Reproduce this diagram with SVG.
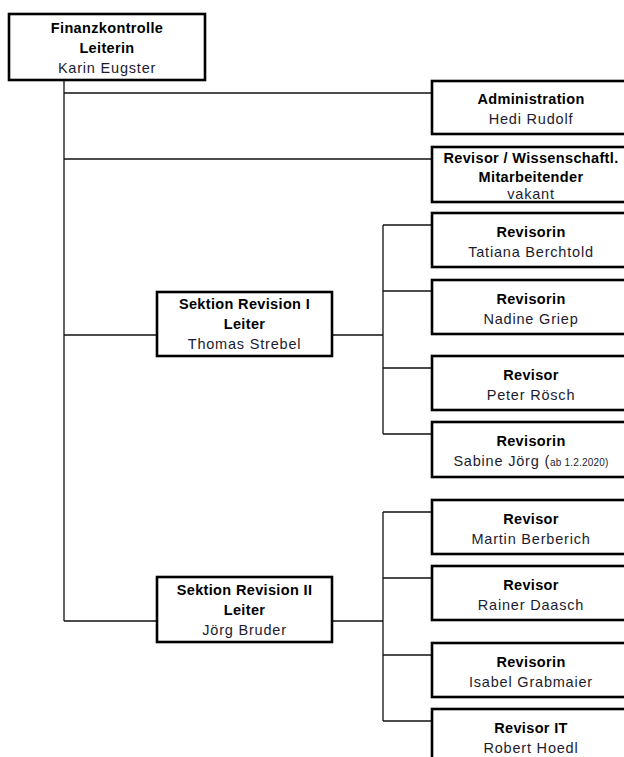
<svg xmlns="http://www.w3.org/2000/svg" width="624" height="757" viewBox="0 0 624 757">
<style>
.box{fill:#fff;stroke:#000;stroke-width:2.6}
.ln{fill:none;stroke:#111;stroke-width:1.3}
text{font-family:"Liberation Sans",Arial,sans-serif;font-size:14.5px;text-anchor:middle;letter-spacing:0.6px}
.t{font-weight:bold;fill:#000;letter-spacing:0.35px}
.n{fill:#1c1c30;letter-spacing:0.8px}
.s{font-size:10px;letter-spacing:0.2px}
</style>
<rect width="624" height="757" fill="#fff"/>
<g id="connectors">
<path class="ln" d="M64 81V621M64 93H432M64 159H432M64 335H157M64 621H157"/>
<path class="ln" d="M332 335H383M383 225V434M383 225H432M383 291H432M383 368H432M383 434H432"/>
<path class="ln" d="M332 621H383M383 512V721M383 512H432M383 578H432M383 655H432M383 721H432"/>
</g>
<g id="finanzkontrolle">
<rect class="box" x="9" y="14" width="196" height="66"/>
<text class="t" x="107" y="33">Finanzkontrolle</text>
<text class="t" x="107" y="53">Leiterin</text>
<text class="n" x="107" y="73">Karin Eugster</text>
</g>
<g id="administration">
<rect class="box" x="432" y="81" width="200" height="53"/>
<text class="t" x="531" y="104">Administration</text>
<text class="n" x="531" y="124">Hedi Rudolf</text>
</g>
<g id="revisor-wiss">
<rect class="box" x="432" y="147" width="200" height="55"/>
<text class="t" x="531" y="163">Revisor / Wissenschaftl.</text>
<text class="t" x="531" y="182">Mitarbeitender</text>
<text class="n" x="531" y="199">vakant</text>
</g>
<g id="sektion1">
<rect class="box" x="157" y="292" width="175" height="64"/>
<text class="t" x="244.5" y="309">Sektion Revision I</text>
<text class="t" x="244.5" y="329">Leiter</text>
<text class="n" x="244.5" y="349">Thomas Strebel</text>
</g>
<g id="tatiana">
<rect class="box" x="432" y="213" width="200" height="54"/>
<text class="t" x="531" y="237">Revisorin</text>
<text class="n" x="531" y="257">Tatiana Berchtold</text>
</g>
<g id="nadine">
<rect class="box" x="432" y="280" width="200" height="54"/>
<text class="t" x="531" y="304">Revisorin</text>
<text class="n" x="531" y="324">Nadine Griep</text>
</g>
<g id="peter">
<rect class="box" x="432" y="356" width="200" height="54"/>
<text class="t" x="531" y="380">Revisor</text>
<text class="n" x="531" y="400">Peter Rösch</text>
</g>
<g id="sabine">
<rect class="box" x="432" y="422" width="200" height="55"/>
<text class="t" x="531" y="446">Revisorin</text>
<text class="n" x="531" y="466">Sabine Jörg (<tspan class="s">ab 1.2.2020)</tspan></text>
</g>
<g id="sektion2">
<rect class="box" x="157" y="577" width="175" height="65"/>
<text class="t" x="244.5" y="595">Sektion Revision II</text>
<text class="t" x="244.5" y="615">Leiter</text>
<text class="n" x="244.5" y="635">Jörg Bruder</text>
</g>
<g id="martin">
<rect class="box" x="432" y="500" width="200" height="54"/>
<text class="t" x="531" y="524">Revisor</text>
<text class="n" x="531" y="544">Martin Berberich</text>
</g>
<g id="rainer">
<rect class="box" x="432" y="566" width="200" height="54"/>
<text class="t" x="531" y="590">Revisor</text>
<text class="n" x="531" y="610">Rainer Daasch</text>
</g>
<g id="isabel">
<rect class="box" x="432" y="643" width="200" height="54"/>
<text class="t" x="531" y="667">Revisorin</text>
<text class="n" x="531" y="687">Isabel Grabmaier</text>
</g>
<g id="robert">
<rect class="box" x="432" y="709" width="200" height="60"/>
<text class="t" x="531" y="733">Revisor IT</text>
<text class="n" x="531" y="753">Robert Hoedl</text>
</g>
</svg>
